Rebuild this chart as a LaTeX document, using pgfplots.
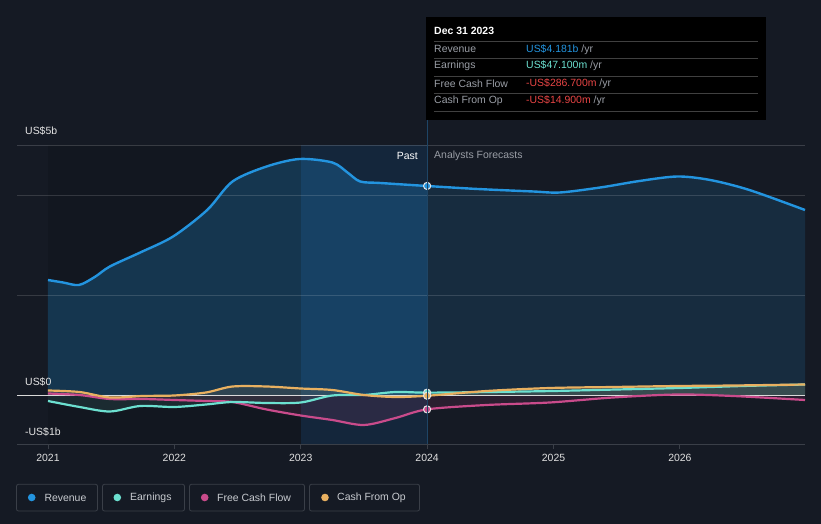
\documentclass[border=0pt]{standalone}
\usepackage{pgfplots}
\usepackage{pgfplotstable}
\pgfplotsset{compat=1.18}
\usepgfplotslibrary{fillbetween}
\usepackage{fontspec}
\setmainfont{Liberation Sans}

\definecolor{bg}{HTML}{151A24}
\definecolor{gridc}{HTML}{3A3F48}
\definecolor{rev}{HTML}{2394DF}
\definecolor{ern}{HTML}{6CE0D0}
\definecolor{fcf}{HTML}{C94B8B}
\definecolor{cfo}{HTML}{E8B060}
\definecolor{band}{HTML}{1070C0}
\definecolor{nowline}{HTML}{1E4566}
\definecolor{lbl}{HTML}{9A9EA6}
\definecolor{neg}{HTML}{E84545}
\definecolor{legtxt}{HTML}{C8CBD0}

% revenue, US$ b
\pgfplotstableread{
x y
2021.00 2.30
2021.12 2.25
2021.245 2.20
2021.37 2.36
2021.49 2.57
2021.73 2.85
2021.99 3.17
2022.26 3.70
2022.46 4.27
2022.73 4.57
2022.99 4.72
2023.25 4.65
2023.37 4.45
2023.47 4.27
2023.63 4.24
2024.00 4.18
2024.40 4.12
2024.84 4.07
2025.05 4.05
2025.37 4.15
2025.68 4.28
2025.98 4.37
2026.24 4.30
2026.55 4.10
2026.99 3.70
}\revenue

\pgfplotstableread{
x y
2021.00 -0.12
2021.25 -0.24
2021.49 -0.33
2021.73 -0.22
2022.00 -0.24
2022.25 -0.19
2022.46 -0.14
2022.73 -0.16
2023.00 -0.15
2023.25 -0.01
2023.50 0.00
2023.75 0.06
2024.00 0.047
2024.50 0.06
2025.00 0.08
2025.50 0.11
2026.00 0.14
2026.50 0.18
2026.99 0.21
}\earnings

\pgfplotstableread{
x y
2021.00 0.03
2021.25 0.00
2021.49 -0.08
2021.75 -0.08
2022.00 -0.10
2022.25 -0.12
2022.46 -0.14
2022.73 -0.29
2023.00 -0.41
2023.25 -0.50
2023.50 -0.60
2023.75 -0.46
2024.00 -0.287
2024.47 -0.20
2024.97 -0.15
2025.47 -0.05
2025.98 0.01
2026.42 -0.02
2026.99 -0.10
}\fcflow

\pgfplotstableread{
x y
2021.00 0.09
2021.25 0.06
2021.49 -0.05
2021.75 -0.02
2022.00 -0.01
2022.25 0.05
2022.46 0.17
2022.73 0.17
2023.00 0.13
2023.25 0.10
2023.50 0.00
2023.75 -0.04
2024.00 -0.015
2024.47 0.08
2024.97 0.14
2025.47 0.16
2025.98 0.18
2026.42 0.19
2026.99 0.21
}\cfo

\begin{document}
\begin{tikzpicture}[font=\fontsize{10.5}{12}\selectfont]
\begin{axis}[
    at={(0,0)}, anchor=south west,
    set layers,
    clip=false,
    scale only axis,
    width=788bp, height=299bp,
    xmin=2020.755, xmax=2026.99,
    ymin=-0.98, ymax=5,
    axis x line*=bottom,
    axis y line=none,
    x axis line style={color=gridc, line width=0.8bp, -},
    xtick={2021,2022,2023,2024,2025,2026},
    tick align=outside,
    major tick length=5bp,
    xtick style={color=gridc, line width=0.8bp},
    /pgf/number format/assume math mode=true,
    xticklabel style={/pgf/number format/1000 sep={}, color=white!88!black,
        font=\fontsize{10.5}{12}\selectfont, yshift=-1.5bp},
    ytick=\empty,
    smooth, tension=0.5,
]
% whole picture background, under everything in the axis
\begin{pgfonlayer}{axis background}
\fill[bg] (rel axis cs:-0.021574,-0.267559) rectangle (rel axis cs:1.020305,1.484950);
\fill[black, opacity=0.10] (axis cs:2021,-0.98) rectangle (axis cs:2023,5);
\fill[band, opacity=0.15] (axis cs:2023,-0.98) rectangle (axis cs:2024,5);
\end{pgfonlayer}

% named paths
\addplot[draw=none, name path=zero, sharp plot] coordinates {(2021,0) (2026.99,0)};
\addplot[draw=none, name path=zeropast, sharp plot] coordinates {(2021,0) (2024,0)};
\addplot[draw=none, name path=revp] table[x=x, y=y] {\revenue};
\addplot[draw=none, name path=revpast, restrict x to domain=2021:2024] table[x=x, y=y] {\revenue};
\addplot[draw=none, name path=ernp] table[x=x, y=y] {\earnings};
\addplot[draw=none, name path=fcfp] table[x=x, y=y] {\fcflow};
\addplot[draw=none, name path=cfop] table[x=x, y=y] {\cfo};

% areas
\addplot[fill=rev, fill opacity=0.15, draw=none] fill between[of=revp and zero];
\addplot[fill=rev, fill opacity=0.12, draw=none] fill between[of=revpast and zeropast];
\addplot[fill=ern, fill opacity=0.10, draw=none] fill between[of=ernp and zero];
\addplot[fill=fcf, fill opacity=0.12, draw=none] fill between[of=fcfp and zero];
\addplot[fill=cfo, fill opacity=0.12, draw=none] fill between[of=cfop and zero];

% grid lines over the areas
\draw[white, opacity=0.14, line width=0.8bp] (axis cs:2020.755,2) -- (axis cs:2026.99,2);
\draw[white, opacity=0.14, line width=0.8bp] (axis cs:2020.755,4) -- (axis cs:2026.99,4);
\draw[white, opacity=0.16, line width=0.8bp] (axis cs:2020.755,5) -- (axis cs:2026.99,5);
\draw[white!85!black, line width=0.9bp] (axis cs:2020.755,0) -- (axis cs:2026.99,0);

% lines
\addplot[fcf, line width=2.2bp] table[x=x, y=y] {\fcflow};
\addplot[ern, line width=2.2bp] table[x=x, y=y] {\earnings};
\addplot[cfo, line width=2.2bp] table[x=x, y=y] {\cfo};
\addplot[rev, line width=2.4bp] table[x=x, y=y] {\revenue};

% points at Dec 31 2023
\addplot[only marks, mark=*, mark size=3.6bp, mark options={draw=white!90!black, fill=ern, line width=1bp}] coordinates {(2024,0.047)};
\addplot[only marks, mark=*, mark size=3.6bp, mark options={draw=white!90!black, fill=cfo, line width=1bp}] coordinates {(2024,-0.015)};
\addplot[only marks, mark=*, mark size=3.6bp, mark options={draw=white!90!black, fill=fcf, line width=1bp}] coordinates {(2024,-0.287)};
\addplot[only marks, mark=*, mark size=3.6bp, mark options={draw=white!90!black, fill=rev, line width=1bp}] coordinates {(2024,4.181)};
\end{axis}

% now line
\draw[nowline, line width=0.8bp] (410bp,0) -- (410bp,324bp);

% past / forecast
\node[anchor=east, white, inner sep=0] at (401bp,288bp) {Past};
\node[anchor=west, lbl, inner sep=0] at (417bp,288bp) {Analysts Forecasts};

% y labels
\node[anchor=west, white!90!black, inner sep=0] at (8bp,313bp) {US\$5b};
\node[anchor=west, white!90!black, inner sep=0] at (8bp,62bp) {US\$0};
\node[anchor=west, white!90!black, inner sep=0] at (8bp,12bp) {-US\$1b};

% tooltip
\fill[black] (409bp,324bp) rectangle (749bp,427bp);
\node[anchor=west, white, inner sep=0, font=\fontsize{10.5}{12}\selectfont\bfseries] at (417bp,413bp) {Dec 31 2023};
\foreach \yy in {402.3,385.7,368,350.7,333}
  \draw[white!25!black, line width=0.8bp] (417bp,\yy bp) -- (741bp,\yy bp);
\node[anchor=west, lbl, inner sep=0] at (417bp,394.7bp) {Revenue};
\node[anchor=west, lbl, inner sep=0] at (417bp,378bp) {Earnings};
\node[anchor=west, lbl, inner sep=0] at (417bp,360bp) {Free Cash Flow};
\node[anchor=west, lbl, inner sep=0] at (417bp,343.3bp) {Cash From Op};
\node[anchor=west, inner sep=0] at (509bp,394.7bp) {\textcolor{rev}{US\$4.181b} \textcolor{lbl}{/yr}};
\node[anchor=west, inner sep=0] at (509bp,378bp) {\textcolor{ern}{US\$47.100m} \textcolor{lbl}{/yr}};
\node[anchor=west, inner sep=0] at (509bp,360bp) {\textcolor{neg}{-US\$286.700m} \textcolor{lbl}{/yr}};
\node[anchor=west, inner sep=0] at (509bp,343.3bp) {\textcolor{neg}{-US\$14.900m} \textcolor{lbl}{/yr}};

% legend
\foreach \xa/\xb/\xd/\xt/\cc/\tt in {
    -0.5/80.5/14.7/27.3/rev/Revenue,
    85.5/167.5/100.3/113/ern/Earnings,
    172.5/287.5/187.7/200/fcf/Free Cash Flow,
    292.5/402.5/308/320/cfo/Cash From Op} {
  \draw[gridc, line width=0.8bp, rounded corners=2bp] (\xa bp,-40.3bp) rectangle (\xb bp,-67bp);
  \fill[\cc] (\xd bp,-53.5bp) circle (3.8bp);
  \node[anchor=west, legtxt, inner sep=0] at (\xt bp,-53.5bp) {\tt};
}
\end{tikzpicture}
\end{document}
